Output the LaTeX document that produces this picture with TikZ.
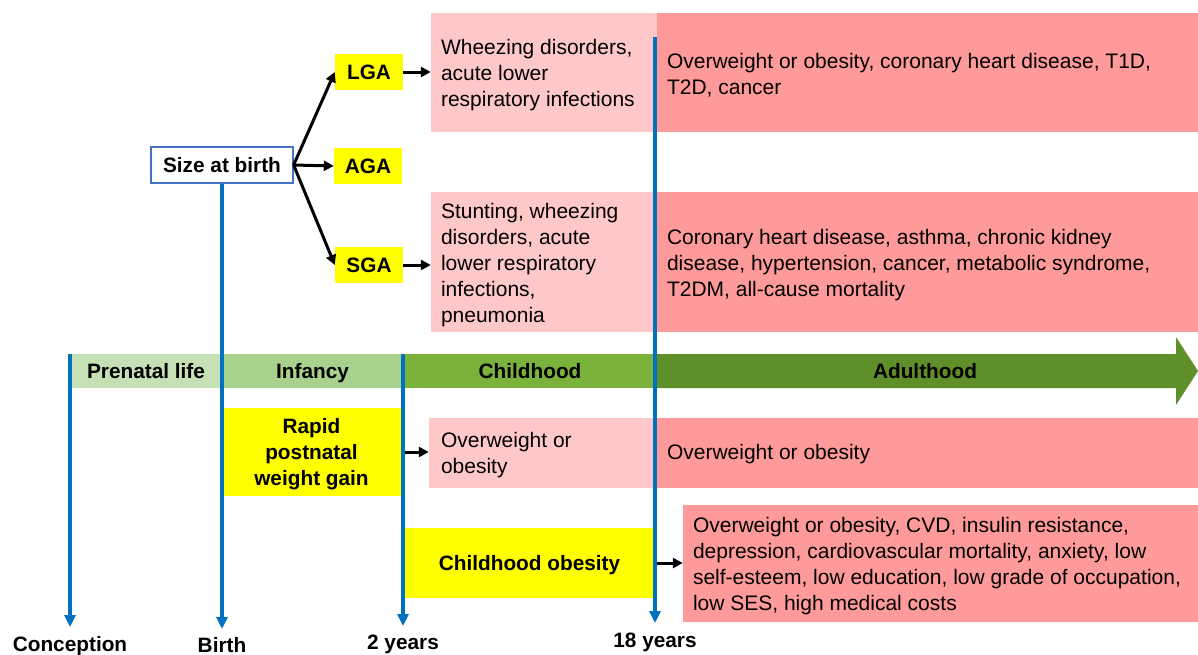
\documentclass[tikz,border=0pt]{standalone}
\usepackage{fontspec}
\setmainfont{Liberation Sans}
\usetikzlibrary{arrows.meta}
\definecolor{lpink}{HTML}{FFC8C8}
\definecolor{dpink}{HTML}{FF9A9A}
\definecolor{gA}{HTML}{C5E0B4}
\definecolor{gB}{HTML}{A9D18E}
\definecolor{gC}{HTML}{7AB23C}
\definecolor{gD}{HTML}{5F8F28}
\definecolor{bline}{HTML}{0070C0}
\definecolor{sizeblue}{HTML}{4472C4}
\definecolor{yel}{HTML}{FFFF00}
\begin{document}
\begin{tikzpicture}[x=1pt,y=-1pt,
  txt/.style={font=\fontsize{21}{26}\selectfont},
  bld/.style={font=\fontsize{20.8}{26}\selectfont\bfseries},
  lbox/.style={fill=lpink, inner sep=0pt},
  dbox/.style={fill=dpink, inner sep=0pt},
  btext/.style={txt, inner sep=0pt, align=left, anchor=west},
  ybox/.style={bld, fill=yel, inner sep=0pt, align=center},
  barseg/.style={bld, inner sep=0pt, minimum height=34pt, text height=19pt, text depth=4pt},
  blueline/.style={draw=bline, line width=3.2pt, -{Triangle[width=11pt,length=12pt]}},
  blk/.style={draw=black, line width=3pt, -{Triangle[width=10pt,length=10pt]}},
  tlab/.style={bld, inner sep=0pt, anchor=base}]
\useasboundingbox (0,0) rectangle (1198,654);

% outcome boxes
\node[lbox, minimum width=226pt, minimum height=119pt] (lgaL) at (544,72.5) {};
\node[btext] (lgaLt) at ([xshift=10pt,yshift=-3pt]lgaL.west)
  {Wheezing disorders,\\acute lower\\respiratory infections};
\node[dbox, minimum width=541pt, minimum height=119pt] (lgaD) at (927.5,72.5) {};
\node[btext] (lgaDt) at ([xshift=10pt,yshift=-3pt]lgaD.west)
  {Overweight or obesity, coronary heart disease, T1D,\\T2D, cancer};
\node[lbox, minimum width=226pt, minimum height=140pt] (sgaL) at (544,262) {};
\node[btext] (sgaLt) at ([xshift=10pt,yshift=-3pt]sgaL.west)
  {Stunting, wheezing\\disorders, acute\\lower respiratory\\infections,\\pneumonia};
\node[dbox, minimum width=541pt, minimum height=140pt] (sgaD) at (927.5,262) {};
\node[btext] (sgaDt) at ([xshift=10pt,yshift=-3pt]sgaD.west)
  {Coronary heart disease, asthma, chronic kidney\\disease, hypertension, cancer, metabolic syndrome,\\T2DM, all-cause mortality};
\node[lbox, minimum width=228pt, minimum height=70pt] (owL) at (543,453) {};
\node[btext] (owLt) at ([xshift=12pt,yshift=-2pt]owL.west)
  {Overweight or\\obesity};
\node[dbox, minimum width=541pt, minimum height=70pt] (owD) at (927.5,453) {};
\node[btext] (owDt) at ([xshift=10pt,yshift=-1pt]owD.west)
  {Overweight or obesity};
\node[dbox, minimum width=515pt, minimum height=117pt] (coD) at (940.5,563.5) {};
\node[btext] (coDt) at ([xshift=10pt,yshift=-3pt]coD.west)
  {Overweight or obesity, CVD, insulin resistance,\\depression, cardiovascular mortality, anxiety, low\\self-esteem, low education, low grade of occupation,\\low SES, high medical costs};

% timeline bar
\fill[gD] (657,354) -- (1176,354) -- (1176,337) -- (1198,371) -- (1176,405) -- (1176,388) -- (657,388) -- cycle;
\node[barseg, fill=gA, minimum width=152pt] (prenatal) at (146,371) {Prenatal life};
\node[barseg, fill=gB, minimum width=181pt] (infancy) at (312.5,371) {Infancy};
\node[barseg, fill=gC, minimum width=254pt] (childhood) at (530,371) {Childhood};
\node[barseg] (adult) at (925,371) {Adulthood};

% size at birth
\node[bld, draw=sizeblue, line width=1.2pt, fill=white, minimum width=142pt, minimum height=36pt, inner sep=0pt] (size) at (222,165) {Size at birth};
\node[ybox, minimum width=68pt, minimum height=36pt] (lga) at (369,72) {LGA};
\node[ybox, minimum width=68pt, minimum height=36pt] (aga) at (368,166) {AGA};
\node[ybox, minimum width=68pt, minimum height=36pt] (sga) at (369,265) {SGA};

\node[ybox, minimum width=179pt, minimum height=88pt, text depth=0pt] (rapid) at (311.5,452) {Rapid\\postnatal\\weight gain};
\node[ybox, minimum width=249pt, minimum height=70pt, text depth=0pt] (cob) at (529.5,563) {Childhood obesity};

% black arrows
\draw[blk] (size.east) -- (lga.west);
\draw[blk] (size.east) -- (aga.west);
\draw[blk] (size.east) -- (sga.west);
\draw[blk] (lga.east) -- (lga.east -| lgaL.west);
\draw[blk] (sga.east) -- (sga.east -| sgaL.west);
\draw[blk] (rapid.east) -- (rapid.east -| owL.west);
\draw[blk] (cob.east) -- (cob.east -| coD.west);

% time labels
\node[tlab] (concLab) at (70,651) {Conception};
\node[tlab] (birthLab) at (222,652) {Birth};
\node[tlab] (twoLab) at (403,649) {2 years};
\node[tlab] (eighteenLab) at (655,647) {18 years};

% blue time lines
\coordinate (concTop) at (70,354);
\coordinate (concEnd) at (70,627);
\coordinate (birthEnd) at (222,629);
\coordinate (twoTop) at (403,354);
\coordinate (twoEnd) at (403,626);
\coordinate (eTop) at (655,37);
\coordinate (eEnd) at (655,623);
\draw[blueline] (concTop) -- (concEnd);
\draw[blueline] (size.south) -- (birthEnd);
\draw[blueline] (twoTop) -- (twoEnd);
\draw[blueline] (eTop) -- (eEnd);
\end{tikzpicture}
\end{document}
